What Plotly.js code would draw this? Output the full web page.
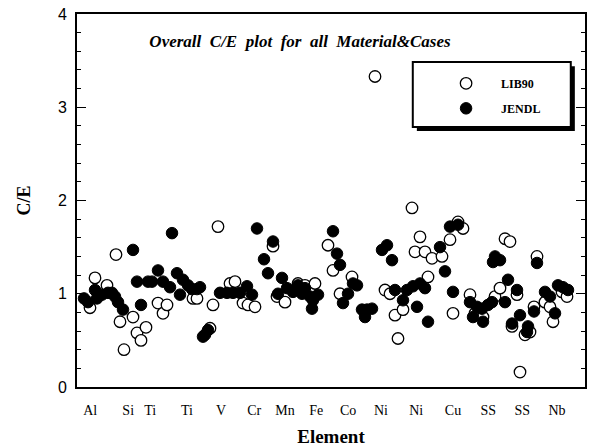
<!DOCTYPE html>
<html>
<head>
<meta charset="utf-8">
<script src="https://cdn.plot.ly/plotly-3.0.1.min.js"></script>
<style>html,body{margin:0;padding:0;background:#fff;}#chart{width:592px;height:448px;}</style>
</head>
<body>
<div id="chart"></div>
<script>
// Category tick labels and their case positions
const tickPos = [3.3, 12.8, 18.3, 27.5, 36, 44.3, 52, 59.8, 67.8, 76, 84.8, 94, 102.8, 111.3, 120];
const tickLabels = ["Al", "Si", "Ti", "Ti", "V", "Cr", "Mn", "Fe", "Co", "Ni", "Ni", "Cu", "SS", "SS", "Nb"];

// LIB90 (open circles): case position and C/E
const lib90Case = [3.25, 4.5, 7.5, 9.75, 10.75, 11.75, 14, 15, 16, 17.25,
  20.25, 21.5, 22.5, 29, 30, 33.25, 34, 35.25, 38.25, 39.5,
  41.5, 42.75, 44.5, 49, 50, 52, 55.25, 57, 59.5, 62.75,
  64, 65.75, 68.75, 74.5, 77, 78.25, 79.5, 80.25, 81.5, 83.75,
  84.5, 85.75, 87, 87.75, 88.75, 91.25, 93.25, 94, 95.25, 96.5,
  98.25, 99.5, 101.5, 104.5, 105.75, 107, 108.25, 108.75, 110, 110.75,
  112, 113.25, 114.25, 115, 117, 118.25, 119, 121.25, 122.5];
const lib90CE = [0.85, 1.17, 1.09, 1.42, 0.70, 0.40, 0.75, 0.58, 0.50, 0.64,
  0.90, 0.79, 0.88, 0.95, 0.95, 0.63, 0.88, 1.72, 1.11, 1.13,
  0.90, 0.88, 0.86, 1.51, 0.97, 0.91, 1.11, 1.09, 1.11, 1.52,
  1.25, 1.00, 1.18, 3.33, 1.04, 1.00, 0.77, 0.52, 0.83, 1.92,
  1.45, 1.61, 1.45, 1.18, 1.38, 1.40, 1.58, 0.79, 1.77, 1.70,
  0.99, 0.79, 0.75, 0.97, 1.06, 1.59, 1.56, 0.65, 0.99, 0.16,
  0.56, 0.59, 0.86, 1.40, 0.91, 0.86, 0.70, 1.02, 0.97];

// JENDL (filled circles): case position and C/E
const jendlCase = [1.75, 2.75, 4.5, 5, 6.25, 7.75, 8.75, 9.5, 10.25, 11.5,
  14, 15, 16, 17.75, 18.75, 20.25, 21.5, 23.25, 23.75, 25,
  25.75, 26.5, 27.75, 28.75, 30, 30.75, 31.5, 32, 32.75, 35.75,
  37.5, 39, 40.75, 42.5, 43.75, 45, 46.75, 47.75, 49, 50.25,
  51.25, 52.5, 54, 55.25, 56.25, 57, 58.25, 58.75, 59, 60.25,
  64, 65, 65.75, 66.5, 67.75, 69, 70, 71.25, 72, 72.5,
  73.75, 76.25, 77.5, 78.75, 79.5, 81.5, 82.5, 84, 85, 85.75,
  87, 87.75, 90.75, 92, 93.25, 94, 95.25, 98.25, 99, 100,
  101.25, 101.5, 102.75, 103.75, 104, 104.5, 105.75, 107, 107.75, 108.75,
  110, 110.75, 112.5, 112.75, 114.25, 115, 117, 118.25, 119.5, 120.25,
  121.5, 122.75];
const jendlCE = [0.95, 0.91, 1.04, 0.95, 0.99, 1.01, 1.01, 0.97, 0.91, 0.83,
  1.47, 1.13, 0.88, 1.13, 1.13, 1.25, 1.13, 1.07, 1.65, 1.22,
  0.99, 1.15, 1.09, 1.05, 1.05, 1.07, 0.54, 0.56, 0.61, 1.01,
  1.01, 1.01, 1.01, 1.08, 0.99, 1.70, 1.37, 1.22, 1.56, 1.00,
  1.17, 1.06, 1.02, 1.09, 1.00, 1.06, 0.97, 0.84, 0.93, 0.99,
  1.67, 1.43, 1.31, 0.90, 1.00, 1.11, 1.09, 0.83, 0.75, 0.83,
  0.84, 1.47, 1.52, 1.36, 1.04, 0.93, 1.04, 1.08, 0.86, 1.11,
  1.06, 0.70, 1.50, 1.24, 1.72, 1.02, 1.74, 0.91, 0.75, 0.86,
  0.84, 0.70, 0.88, 0.91, 1.34, 1.40, 1.36, 0.91, 1.15, 0.68,
  1.04, 0.77, 0.59, 0.65, 0.81, 1.33, 1.02, 0.97, 0.79, 1.09,
  1.07, 1.04];

const serif = "Liberation Serif, Times New Roman, serif";
const sans = "Liberation Sans, Arial, sans-serif";

const traces = [
  {
    x: lib90Case, y: lib90CE, name: "LIB90", type: "scatter", mode: "markers",
    legendgroup: "a",
    marker: {symbol: "circle", size: 11.5, color: "#ffffff", line: {color: "#000000", width: 1.3}}
  },
  {
    x: jendlCase, y: jendlCE, name: "JENDL", type: "scatter", mode: "markers",
    legendgroup: "b",
    marker: {symbol: "circle", size: 11.5, color: "#000000", line: {color: "#000000", width: 1}}
  }
];

const layout = {
  width: 592, height: 448,
  margin: {l: 77, r: 7, t: 14, b: 61},
  paper_bgcolor: "#ffffff", plot_bgcolor: "#ffffff",
  showlegend: true,
  legend: {
    x: 0.697, y: 0.853, xanchor: "left", yanchor: "top",
    bgcolor: "rgba(0,0,0,0)", borderwidth: 0,
    itemwidth: 60, tracegroupgap: 6,
    font: {family: serif, size: 12, color: "#000", weight: "bold"}
  },
  title: {
    text: "<b><i>Overall  C/E  plot  for  all  Material&amp;Cases</i></b>",
    x: 0.439, xref: "paper", xanchor: "center",
    y: 0.928, yref: "paper", yanchor: "middle",
    font: {family: serif, size: 17, color: "#000"}
  },
  xaxis: {
    range: [0, 127], showgrid: false, zeroline: false,
    showline: true, linecolor: "#000", linewidth: 2, mirror: true,
    ticks: "", tickmode: "array", tickvals: tickPos, ticktext: tickLabels,
    tickfont: {family: serif, size: 14, color: "#000"},
    ticklabelstandoff: 9,
    title: {text: "<b>Element</b>", font: {family: serif, size: 19, color: "#000"}, standoff: 13}
  },
  yaxis: {
    range: [0, 4], showgrid: false, zeroline: false,
    showline: true, linecolor: "#000", linewidth: 2, mirror: "ticks",
    ticks: "inside", ticklen: 9, tickwidth: 1.2, tickcolor: "#000",
    dtick: 1, tick0: 0,
    minor: {dtick: 0.2, ticks: "inside", ticklen: 4, tickwidth: 1, tickcolor: "#000", showgrid: false},
    tickfont: {family: sans, size: 16, color: "#000"},
    ticklabelstandoff: 5,
    title: {text: "<b>C/E</b>", font: {family: serif, size: 18, color: "#000"}, standoff: 23}
  },
  shapes: [
    {type: "rect", xref: "paper", yref: "paper", x0: 0.669, x1: 0.98, y0: 0.686, y1: 0.860,
     fillcolor: "#000", line: {width: 0}, layer: "above"},
    {type: "rect", xref: "paper", yref: "paper", x0: 0.661, x1: 0.972, y0: 0.697, y1: 0.871,
     fillcolor: "#fff", line: {color: "#000", width: 2}, layer: "above"}
  ]
};

Plotly.newPlot("chart", traces, layout, {displayModeBar: false, staticPlot: true});
</script>
</body>
</html>
